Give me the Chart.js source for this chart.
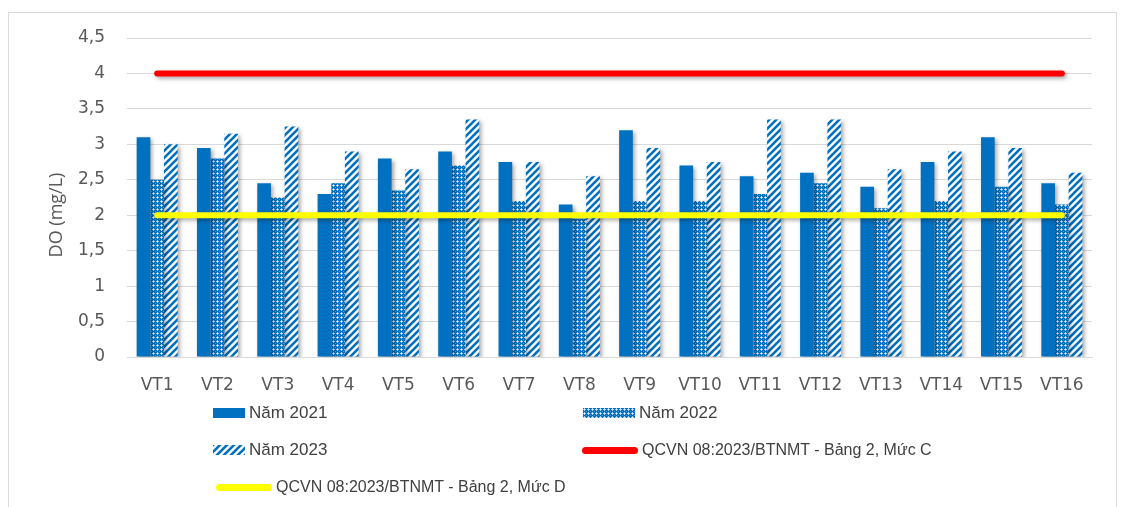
<!DOCTYPE html>
<html>
<head>
<meta charset="utf-8">
<script src="https://cdn.jsdelivr.net/npm/chart.js@4"></script>
<style>
  html, body { margin: 0; padding: 0; background: #fff; }
  #wrap { position: relative; width: 1132px; height: 507px; }
  #frame { position: absolute; left: 8px; top: 12px; width: 1109px; height: 500px; border: 1px solid #d9d9d9; box-sizing: border-box; }
  #myChart { position: absolute; left: 0; top: 0; }
  .lg { position: absolute; display: flex; align-items: center; color: #404040; font-family: "Liberation Sans Narrow", "Liberation Sans", Arial, sans-serif; white-space: nowrap; }
  .lg canvas { margin-right: 4px; }
  .big { font-size: 17px; }
  .small { font-size: 16px; }
</style>
</head>
<body>
<div id="wrap">
  <div id="frame"></div>
  <canvas id="myChart" width="1132" height="507"></canvas>
  <div id="legend"></div>
</div>
<script>
const labels = ['VT1','VT2','VT3','VT4','VT5','VT6','VT7','VT8','VT9','VT10','VT11','VT12','VT13','VT14','VT15','VT16'];

const nam2021 = [3.1, 2.95, 2.45, 2.3, 2.8, 2.9, 2.75, 2.15, 3.2, 2.7, 2.55, 2.6, 2.4, 2.75, 3.1, 2.45];
const nam2022 = [2.5, 2.8, 2.25, 2.45, 2.35, 2.7, 2.2, 1.95, 2.2, 2.2, 2.3, 2.45, 2.1, 2.2, 2.4, 2.15];
const nam2023 = [3.0, 3.15, 3.25, 2.9, 2.65, 3.35, 2.75, 2.55, 2.95, 2.75, 3.35, 3.35, 2.65, 2.9, 2.95, 2.6];

const mucC = 4;
const mucD = 2;

const seriesNames = ['Năm 2021', 'Năm 2022', 'Năm 2023',
  'QCVN 08:2023/BTNMT  - Bảng 2, Mức C', 'QCVN 08:2023/BTNMT  - Bảng 2, Mức D'];
const yTitle = 'DO (mg/L)';

const blue = '#0070C0';

// dotted fill for 2022 (little light crosses on blue)
const makeDots = () => {
    let c = document.createElement('canvas');
    c.width = 4; c.height = 4;
    let g = c.getContext('2d');
    g.fillStyle = blue;
    g.fillRect(0, 0, 4, 4);
    g.fillStyle = '#a9cbec';
    g.fillRect(1, 0, 1, 1);
    g.fillRect(0, 1, 3, 1);
    g.fillRect(1, 2, 1, 1);
    g.fillStyle = '#e6f0fa';
    g.fillRect(1, 1, 1, 1);
    g.fillStyle = '#4d95d3';
    g.fillRect(3, 3, 1, 1);
    return c;
};

// diagonal stripes for 2023
const makeStripes = () => {
    let s = 7;
    let c = document.createElement('canvas');
    c.width = s; c.height = s;
    let g = c.getContext('2d');
    g.fillStyle = '#fff';
    g.fillRect(0, 0, s, s);
    g.strokeStyle = blue;
    g.lineWidth = 2.6;
    g.beginPath();
    g.moveTo(-1, s + 1); g.lineTo(s + 1, -1);
    g.moveTo(-s / 2 - 1, s / 2 + 1); g.lineTo(s / 2 + 1, -s / 2 - 1);
    g.moveTo(s / 2 - 1, s * 1.5 + 1); g.lineTo(s * 1.5 + 1, s / 2 - 1);
    g.stroke();
    return c;
};

var ctx = document.getElementById('myChart').getContext('2d');
const dotFill = ctx.createPattern(makeDots(), 'repeat');
const stripeFill = ctx.createPattern(makeStripes(), 'repeat');

const shadow = {
    id: 'shadow',
    beforeDatasetDraw: (chart, args) => {
        const c = chart.ctx;
        c.save();
        c.shadowColor = 'rgba(0,0,0,0.35)';
        c.shadowBlur = 4;
        c.shadowOffsetX = 2;
        c.shadowOffsetY = 2;
    },
    afterDatasetDraw: (chart) => {
        chart.ctx.restore();
    }
};

// y title sits a bit below the middle in the original
const axisTitle = {
    id: 'axisTitle',
    afterDraw: (chart) => {
        const c = chart.ctx;
        c.save();
        c.translate(57, 215);
        c.rotate(-Math.PI / 2);
        c.font = '18px "Open Sans", sans-serif';
        c.fillStyle = '#595959';
        c.textAlign = 'center';
        c.textBaseline = 'middle';
        c.fillText(yTitle, 0, 0);
        c.restore();
    }
};

const tickFont = { family: '"DejaVu Sans", sans-serif', size: 17 };

new Chart(ctx, {
    type: 'bar',
    plugins: [shadow, axisTitle],
    data: {
        labels: labels,
        datasets: [{
            label: seriesNames[0],
            data: nam2021,
            backgroundColor: blue,
            order: 2
        }, {
            label: seriesNames[1],
            data: nam2022,
            backgroundColor: dotFill,
            order: 2
        }, {
            label: seriesNames[2],
            data: nam2023,
            backgroundColor: stripeFill,
            order: 2
        }, {
            type: 'line',
            label: seriesNames[3],
            data: labels.map(() => mucC),
            borderColor: '#FF0000',
            borderWidth: 6,
            borderCapStyle: 'round',
            pointRadius: 0,
            order: 0
        }, {
            type: 'line',
            label: seriesNames[4],
            data: labels.map(() => mucD),
            borderColor: '#FFFF00',
            borderWidth: 6,
            borderCapStyle: 'round',
            pointRadius: 0,
            order: 1
        }]
    },
    options: {
        responsive: false,
        animation: false,
        layout: { padding: { top: 38, right: 40, bottom: 110, left: 0 } },
        datasets: { bar: { categoryPercentage: 0.68, barPercentage: 1.0 } },
        plugins: {
            legend: { display: false },
            tooltip: { enabled: false }
        },
        scales: {
            x: {
                grid: { display: false },
                border: { color: '#d9d9d9', width: 1 },
                ticks: { color: '#595959', font: tickFont, padding: 10 },
                afterFit: (s) => { s.height = 40; }
            },
            y: {
                min: 0,
                max: 4.5,
                grid: { color: '#d9d9d9', drawTicks: false },
                border: { display: false },
                ticks: {
                    stepSize: 0.5,
                    color: '#595959',
                    font: tickFont,
                    padding: 22,
                    callback: (v) => String(v).replace('.', ',')
                },
                afterFit: (s) => { s.width = 127; }
            }
        }
    }
});

// legend laid out like the original, two columns
const legendPos = [
    { x: 213, y: 413, w: 32, h: 10, cls: 'big', kind: 'solid' },
    { x: 583, y: 413, w: 52, h: 10, cls: 'big', kind: 'dots' },
    { x: 213, y: 450, w: 32, h: 10, cls: 'big', kind: 'stripes' },
    { x: 582, y: 450, w: 56, h: 7, cls: 'small', kind: 'red' },
    { x: 216, y: 487, w: 56, h: 7, cls: 'small', kind: 'yellow' }
];

const legendBox = document.getElementById('legend');
legendPos.forEach((p, i) => {
    let item = document.createElement('div');
    item.className = 'lg ' + p.cls;
    item.style.left = p.x + 'px';
    item.style.top = (p.y - 10) + 'px';
    item.style.height = '20px';
    let sw = document.createElement('canvas');
    sw.width = p.w; sw.height = p.h;
    let g = sw.getContext('2d');
    if (p.kind === 'solid') { g.fillStyle = blue; g.fillRect(0, 0, p.w, p.h); }
    if (p.kind === 'dots') { g.fillStyle = g.createPattern(makeDots(), 'repeat'); g.fillRect(0, 0, p.w, p.h); }
    if (p.kind === 'stripes') { g.fillStyle = g.createPattern(makeStripes(), 'repeat'); g.fillRect(0, 0, p.w, p.h); }
    if (p.kind === 'red' || p.kind === 'yellow') {
        g.strokeStyle = p.kind === 'red' ? '#FF0000' : '#FFFF00';
        g.lineWidth = p.h;
        g.lineCap = 'round';
        g.beginPath(); g.moveTo(p.h / 2, p.h / 2); g.lineTo(p.w - p.h / 2, p.h / 2); g.stroke();
    }
    let t = document.createElement('span');
    t.textContent = seriesNames[i];
    item.appendChild(sw);
    item.appendChild(t);
    legendBox.appendChild(item);
});
</script>
</body>
</html>
